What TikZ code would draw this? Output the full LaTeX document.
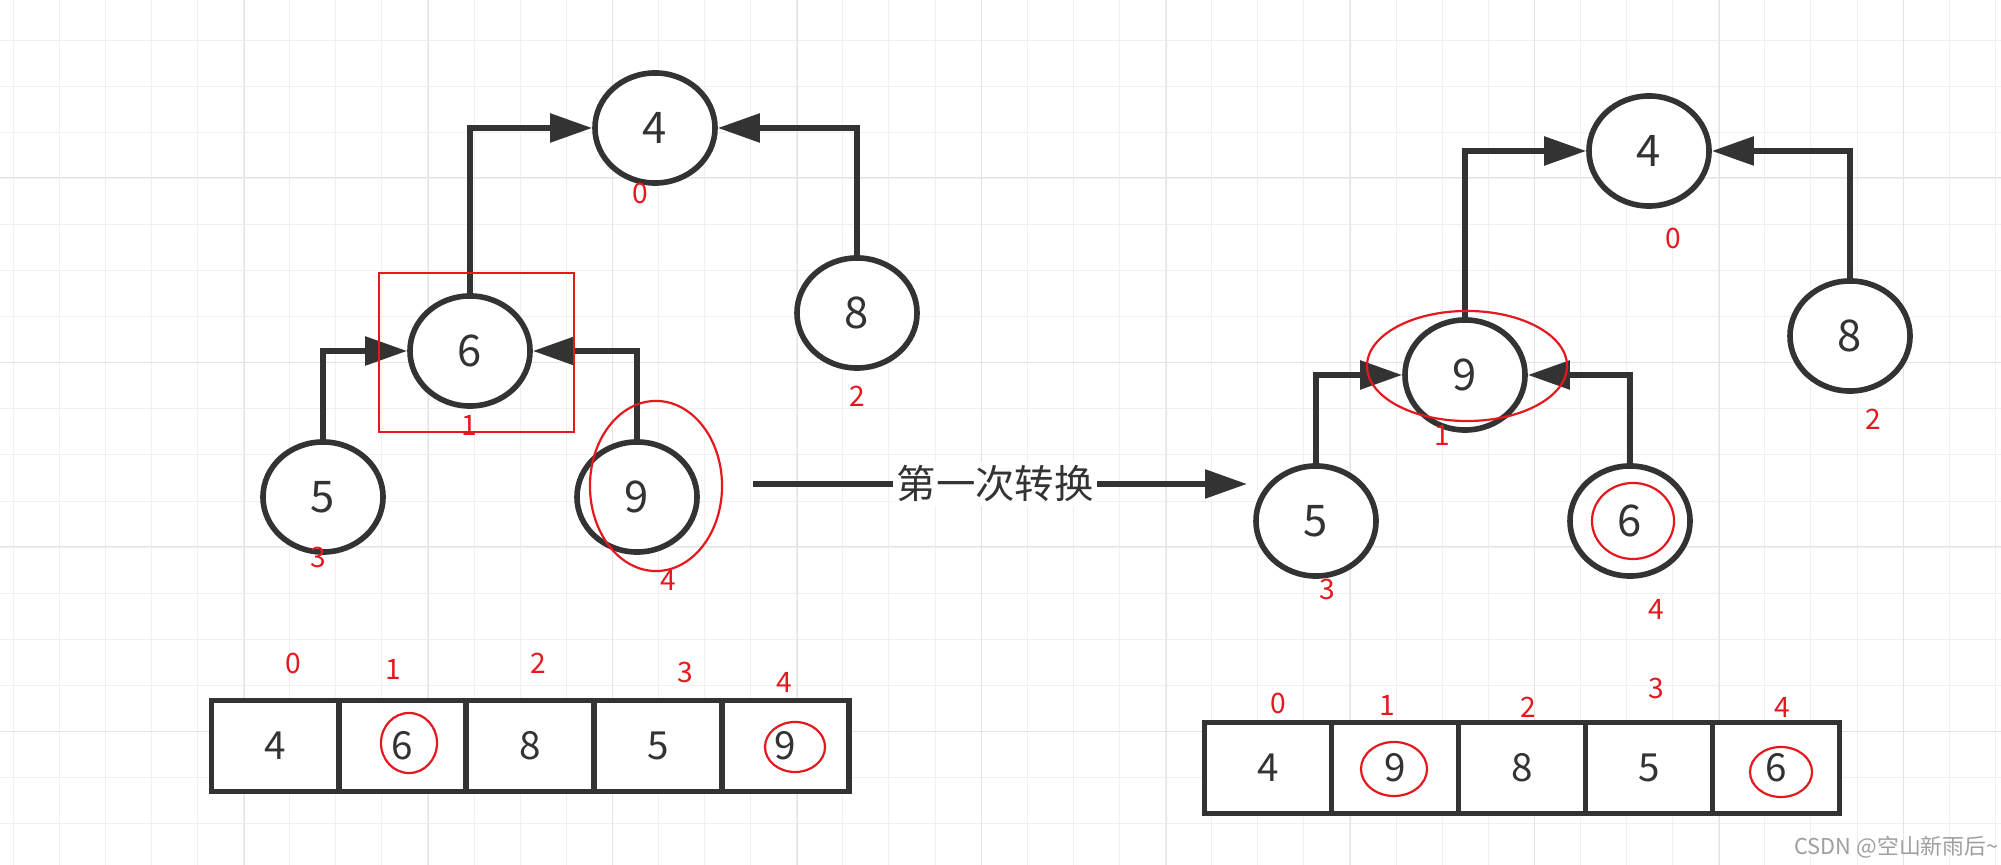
\documentclass[tikz,border=0pt]{standalone}
\usepackage{fontspec}
\setmainfont{Noto Sans CJK SC}
\usetikzlibrary{arrows.meta,shapes.geometric,positioning}
\definecolor{ink}{HTML}{333333}
\definecolor{redpen}{HTML}{E5181E}
\definecolor{gridminor}{HTML}{F0F0F0}
\definecolor{gridmajor}{HTML}{E3E3E3}
\tikzset{
  heap/.style={ellipse, draw=ink, fill=white, line width=0.056cm, minimum width=1.2cm, minimum height=1.1cm, inner sep=0pt, text=ink, font=\fontsize{12.4}{14}\selectfont},
  link/.style={ink, line width=0.055cm, -{Triangle[length=4.2mm,width=2.8mm]}},
  cell/.style={rectangle, draw=ink, fill=white, line width=0.055cm, minimum width=1.27cm, minimum height=0.91cm, inner sep=0pt, outer sep=0pt, text=ink, font=\fontsize{11}{13}\selectfont},
  idx/.style={text=redpen, font=\fontsize{8}{9}\selectfont, inner sep=0pt},
  hilite/.style={draw=redpen, line width=0.022cm},
  note/.style={font=\fontsize{11.2}{13}\selectfont, text=ink}
}

\begin{document}
\begin{tikzpicture}[x=0.01cm, y=-0.01cm]
  \useasboundingbox (0,0) rectangle (2001,865);
  \fill[white] (0,0) rectangle (2001,865);
  % background grid
  \foreach \k in {0,...,43} \draw[gridminor, line width=0.01cm] ({13+46.1*\k},0) -- ({13+46.1*\k},865);
  \foreach \k in {0,...,18} \draw[gridminor, line width=0.01cm] (0,{-6+46.1*\k}) -- (2001,{-6+46.1*\k});
  \foreach \k in {0,...,9} \draw[gridmajor, line width=0.01cm] ({244+184.4*\k},0) -- ({244+184.4*\k},865);
  \foreach \k in {0,...,3} \draw[gridmajor, line width=0.01cm] (0,{178+184.4*\k}) -- (2001,{178+184.4*\k});

  % heap before
  \node[heap] (l4) at (655,128) {4};
  \node[heap] (l6) at (470,351) {6};
  \node[heap] (l8) at (857,313) {8};
  \node[heap] (l5) at (323,497) {5};
  \node[heap] (l9) at (637,497) {9};
  \draw[link] (l6.north) |- (l4.west);
  \draw[link] (l8.north) |- (l4.east);
  \draw[link] (l5.north) |- (l6.west);
  \draw[link] (l9.north) |- (l6.east);
  \foreach \t/\x/\y in {0/640/193, 1/469/425, 2/857/396, 3/318/557, 4/668/580}
    \node[idx] (li\t) at (\x,\y) {\t};
  \draw[hilite] (379,273) rectangle (574,432);
  \draw[hilite] (656,486) ellipse [x radius=0.66cm, y radius=0.85cm];

  % heap after
  \node[heap] (r4) at (1649,151) {4};
  \node[heap] (r9) at (1465,375) {9};
  \node[heap] (r8) at (1850,336) {8};
  \node[heap] (r5) at (1316,521) {5};
  \node[heap] (r6) at (1630,521) {6};
  \draw[link] (r9.north) |- (r4.west);
  \draw[link] (r8.north) |- (r4.east);
  \draw[link] (r5.north) |- (r9.west);
  \draw[link] (r6.north) |- (r9.east);
  \foreach \t/\x/\y in {0/1673/238, 1/1442/435, 2/1873/419, 3/1327/589, 4/1656/609}
    \node[idx] (ri\t) at (\x,\y) {\t};
  \draw[hilite] (1467,366) ellipse [x radius=1.0cm, y radius=0.55cm];
  \draw[hilite] (1633,521) ellipse [x radius=0.41cm, y radius=0.38cm];

  % transform arrow
  \coordinate (go) at (753,484);
  \coordinate (stop) at (1247,484);
  \draw[link] (go) -- node[note, fill=white, inner sep=1pt, pos=0.49] (step1) {第一次转换} (stop);

  % arrays
  \foreach \v [count=\i from 0] in {4,6,8,5,9}
    \node[cell] (a\i) at ({275+127.6*\i},746) {\v};
  \foreach \t/\x/\y in {0/293/663, 1/393/669, 2/538/663, 3/685/672, 4/784/682}
    \node[idx] (ai\t) at (\x,\y) {\t};
  \draw[hilite] (409,743) ellipse [x radius=0.28cm, y radius=0.30cm];
  \draw[hilite] (795,747) ellipse [x radius=0.30cm, y radius=0.25cm];

  \foreach \v [count=\i from 0] in {4,9,8,5,6}
    \node[cell] (b\i) at ({1268+127*\i},768) {\v};
  \foreach \t/\x/\y in {0/1278/703, 1/1387/705, 2/1528/707, 3/1656/688, 4/1782/707}
    \node[idx] (bi\t) at (\x,\y) {\t};
  \draw[hilite] (1394,769) ellipse [x radius=0.33cm, y radius=0.27cm];
  \draw[hilite] (1781,772) ellipse [x radius=0.31cm, y radius=0.25cm];

  \node[text=gray!75, font=\fontsize{6.2}{8}\selectfont, anchor=east, inner sep=0pt] (wm) at (1999,847) {CSDN @空山新雨后\textasciitilde};
\end{tikzpicture}
\end{document}
